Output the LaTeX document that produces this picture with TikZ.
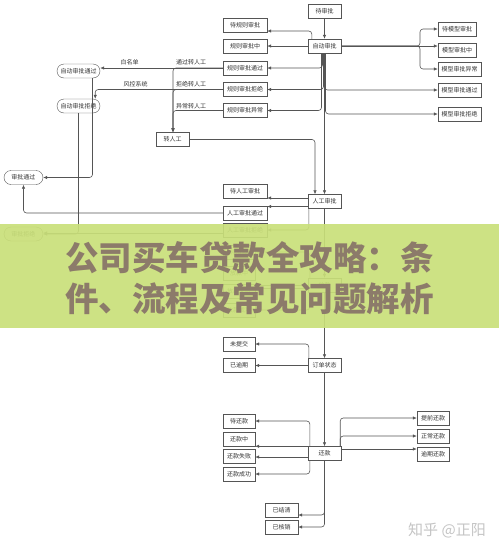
\documentclass[tikz,border=0pt]{standalone}
\usepackage{fontspec}
\newfontfamily\cjk{Noto Sans CJK SC}
\usetikzlibrary{arrows.meta}
\definecolor{linegray}{HTML}{555555}
\definecolor{textgray}{HTML}{333333}
\definecolor{bandgreen}{HTML}{C9DF79}
\definecolor{bandtext}{HTML}{8C7B6A}
\definecolor{wmgray}{HTML}{C4C4C4}
\begin{document}
\begin{tikzpicture}[x=1pt,y=-1pt,
  stat/.style={draw=linegray,fill=white,text=textgray,font=\cjk\fontsize{6}{7}\selectfont,minimum width=#1,minimum height=14pt,inner sep=0pt},
  stat/.default=33pt,
  rstat/.style={stat=#1,rounded corners=7pt},
  lbl/.style={text=textgray,font=\cjk\fontsize{6}{7}\selectfont,inner sep=0pt},
  arr/.style={draw=linegray,line width=0.6pt,-{Latex[length=4pt,width=3.5pt]},rounded corners=3pt}]
\useasboundingbox (0,0) rectangle (499,552);
% auto review
\node[stat] (ds) at (324.5,11) {待审批};
\node[stat] (zd) at (324.5,46) {自动审批};
\node[stat=44pt] (gz1) at (245,25) {待规则审批};
\node[stat=44pt] (gz2) at (245,46) {规则审批中};
\node[stat=44pt] (gz3) at (245,68) {规则审批通过};
\node[stat=44pt] (gz4) at (245,89.5) {规则审批拒绝};
\node[stat=44pt] (gz5) at (245,110.5) {规则审批异常};
\node[stat=38pt] (mx1) at (457,29) {待模型审批};
\node[stat=38pt] (mx2) at (457,50) {模型审批中};
\node[stat=43pt] (mx3) at (459.5,69) {模型审批异常};
\node[stat=43pt] (mx4) at (459.5,90) {模型审批通过};
\node[stat=43pt] (mx5) at (459.5,114) {模型审批拒绝};
\node[rstat=43pt] (zdtg) at (78.5,71) {自动审批通过};
\node[rstat=43pt] (zdjj) at (78.5,106) {自动审批拒绝};
\node[stat] (zrg) at (172.5,139.5) {转人工};
\node[rstat=39pt] (sptg) at (23.5,177.5) {审批通过};
\node[rstat=39pt] (spjj) at (23.5,234) {审批拒绝};
% manual review
\node[stat] (rg) at (324.5,201.5) {人工审批};
\node[stat=44pt] (rg1) at (245,191.5) {待人工审批};
\node[stat=44pt] (rg2) at (245,213) {人工审批通过};
\node[stat=44pt] (rg3) at (245,230) {人工审批拒绝};
% loan
\node[stat] (fk) at (324.5,285) {放款};
\node[stat=32pt] (dfk) at (239,252) {待放款};
\node[stat=32pt] (fkz) at (239,273) {放款中};
\node[stat=32pt] (fksb) at (239,291) {放款失败};
\node[stat=32pt] (fkcg) at (239,310) {放款成功};
% order
\node[stat] (dd) at (324.5,365.5) {订单状态};
\node[stat=32pt] (wtj) at (239,344) {未提交};
\node[stat=32pt] (yyq) at (239,365) {已逾期};
% repay
\node[stat] (hk) at (324.5,453.5) {还款};
\node[stat=32pt] (dhk) at (239,421) {待还款};
\node[stat=32pt] (hkz) at (239,439) {还款中};
\node[stat=32pt] (hksb) at (239,456) {还款失败};
\node[stat=32pt] (hkcg) at (239,474) {还款成功};
\node[stat=32pt] (tq) at (433,418) {提前还款};
\node[stat=32pt] (zc) at (433,436) {正常还款};
\node[stat=32pt] (yq) at (433,454) {逾期还款};
\node[stat] (yjq) at (281.5,510) {已结清};
\node[stat] (yhx) at (281.5,527) {已核销};
% labels
\node[lbl] (lwhite) at (129.5,62) {白名单};
\node[lbl] (lpass) at (191,62) {通过转人工};
\node[lbl] (lrisk) at (135.5,84) {风控系统};
\node[lbl] (lrej) at (191,84) {拒绝转人工};
\node[lbl] (lerr) at (191,106) {异常转人工};
\coordinate (msplit) at (420,46);
% edges
\draw[arr] (ds) -- (zd);
\draw[arr] ([xshift=4pt]zd.north west) |- (gz1.east |- 0,31);
\draw[arr] (zd.west) -- (gz2.east);
\draw[arr] (zd.east) -- (msplit) |- (mx1.west);
\draw[arr] (zd.east) -- (mx2.west |- zd.east);
\draw[arr] (zd.east) -- (msplit) |- (mx3.west);
\draw[arr] ([xshift=-2pt]zd.south) |- (gz3.east);
\draw[arr] ([xshift=-1pt]zd.south) |- (gz4.east);
\draw[arr] (zd.south) |- (mx4.west);
\draw[arr] ([xshift=-3pt]zd.south) |- (gz5.east);
\draw[arr] ([xshift=1pt]zd.south) |- (mx5.west);
\draw[arr] (zd.south) -- (rg.north);
\draw[arr] (gz3.west) -- (gz3.west -| zdtg.east);
\draw[arr] (gz3.west) -| ([xshift=0.5pt]zrg.north);
\draw[arr] (gz4.west) -| ([xshift=-5pt]zdjj.north east);
\draw[arr] (gz4.west) -| ([xshift=0.5pt]zrg.north);
\draw[arr] (gz5.west) -| ([xshift=0.5pt]zrg.north);
\draw[arr] (zrg.east) -| ([xshift=-9.5pt]rg.north);
\draw[arr] ([xshift=14pt]zdtg.south) |- (sptg.east);
\draw[arr] (zdjj.south) |- (spjj.east);
\draw[arr] ([yshift=3.5pt]rg.west) -- ([yshift=3.5pt]rg.west -| rg1.east);
\draw[arr] ([yshift=-5pt]rg.west) -- ([yshift=-5pt]rg.west -| rg2.east);
\draw[arr] ([xshift=1pt]rg.south west) |- (rg3.east);
\draw[arr] (rg2.west) -| (sptg.south);
\draw[arr] ([yshift=-3pt]rg3.west) -- ([yshift=-3pt]rg3.west -| spjj.east);
\draw[arr] (rg.south) -- (fk.north);
\draw[arr] ([xshift=2pt]fk.north west) |- (dfk.east);
\draw[arr] (fk.west) -- (fk.west -| fkz.east);
\draw[arr] ([yshift=-3pt]fk.west) -- ([yshift=-3pt]fk.west -| fksb.east);
\draw[arr] ([xshift=2pt]fk.south west) |- (fkcg.east);
\draw[arr] (fk.south) -- (dd.north);
\draw[arr] ([xshift=1pt]dd.north west) |- (wtj.east);
\draw[arr] (dd.west) -- (dd.west -| yyq.east);
\draw[arr] (dd.south) -- (hk.north);
\draw[arr] ([xshift=2pt]hk.north west) |- (dhk.east);
\draw[arr] (hk.north west) -- (hk.north west -| hkz.east);
\draw[arr] ([yshift=-3.5pt]hk.west) -- ([yshift=-3.5pt]hk.west -| hksb.east);
\draw[arr] ([xshift=2pt]hk.south west) |- (hkcg.east);
\draw[arr] ([xshift=-1pt]hk.north east) |- (tq.west);
\draw[arr] ([xshift=-1pt]hk.north east) |- (zc.west);
\draw[arr] ([yshift=4.5pt]hk.east) -- ([yshift=4.5pt]hk.east -| yq.west);
\draw[arr] (hk.south) |- ([yshift=-5pt]yjq.east);
\draw[arr] (hk.south) |- (yhx.east);
% banner and watermark
\fill[bandgreen,fill opacity=0.92] (0,224) rectangle (499,328);
\node[text=bandtext,font=\cjk\bfseries\fontsize{33.5}{41}\selectfont,align=center,inner sep=0pt] (title) at (249.5,278) {公司买车贷款全攻略：条\\件、流程及常见问题解析};
\node[text=wmgray,font=\cjk\fontsize{15}{18}\selectfont,inner sep=0pt] (zhihu) at (447,530) {知乎 @正阳};
\end{tikzpicture}
\end{document}
